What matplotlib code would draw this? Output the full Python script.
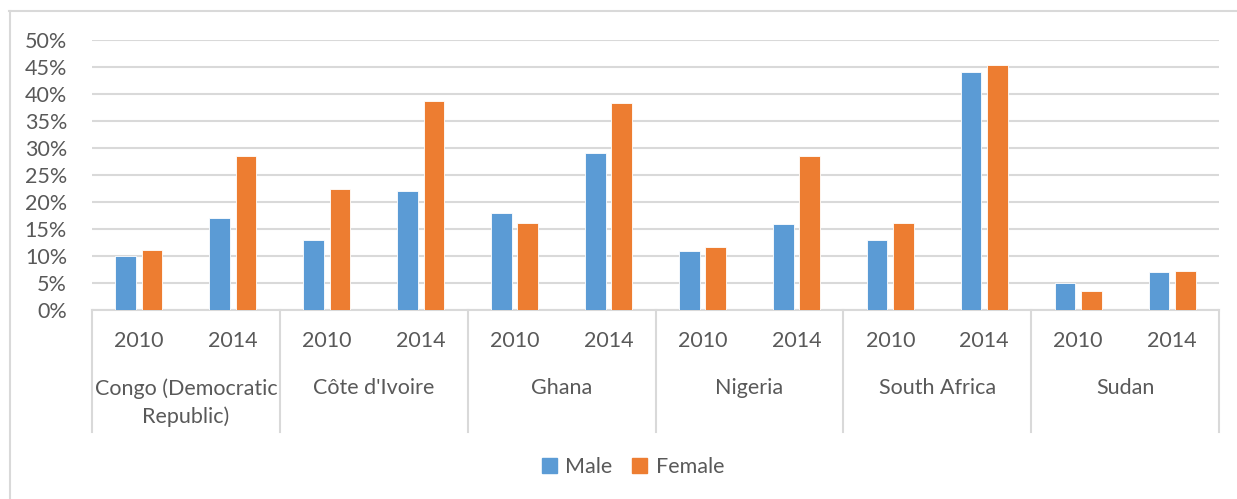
import matplotlib
matplotlib.use("Agg")
import matplotlib.pyplot as plt
import numpy as np
from matplotlib.patches import Patch
from matplotlib.lines import Line2D

countries = ["Congo (Democratic\nRepublic)", "Côte d'Ivoire", "Ghana", "Nigeria", "South Africa", "Sudan"]
years = ["2010", "2014"]
# values in %, one per (country, year) slot
male = [10, 17, 13, 22, 18, 29, 11, 16, 13, 44, 5, 7]
female = [11.1, 28.5, 22.5, 38.7, 16.1, 38.3, 11.6, 28.5, 16.2, 45.3, 3.6, 7.2]

blue = "#5B9BD5"
orange = "#ED7D31"
grey_txt = "#595959"
grid_c = "#D9D9D9"

plt.rcParams['font.family'] = ['Lato', 'DejaVu Sans']

W, H = 1237, 499
fig = plt.figure(figsize=(W / 100, H / 100), dpi=100)
ax = fig.add_axes([92 / W, 1 - 310 / H, (1219 - 92) / W, 270 / H])

x = np.arange(len(male))
bw = 0.22
ax.bar(x - 0.14, np.array(male) / 100, bw, color=blue, edgecolor="white", linewidth=0.6, label="Male", zorder=3)
ax.bar(x + 0.14, np.array(female) / 100, bw, color=orange, edgecolor="white", linewidth=0.6, label="Female", zorder=3)

ax.set_xlim(-0.5, len(male) - 0.5)
ax.set_ylim(0, 0.5)
ax.set_yticks(np.arange(0, 0.51, 0.05))
ax.set_yticklabels([f"{int(round(v * 100))}%" for v in np.arange(0, 0.51, 0.05)])
ax.tick_params(axis="y", length=0, pad=18, labelsize=15.5, labelcolor=grey_txt)
ax.set_xticks([])
ax.grid(axis="y", color=grid_c, linewidth=1.5, zorder=0)
for s in ["top", "right", "left"]:
    ax.spines[s].set_visible(False)
ax.spines["bottom"].set_color(grid_c)
ax.spines["bottom"].set_linewidth(1.5)

# category axis: years, then countries, with separators
trans = ax.get_xaxis_transform()
px = 1 / 270  # one pixel in axes-y units
for i in range(len(male)):
    ax.text(i, -31 * px, years[i % 2], transform=trans, ha="center", va="center",
            fontsize=15.5, color=grey_txt)
for g, name in enumerate(countries):
    ax.text(2 * g + 0.5, -68 * px, name, transform=trans, ha="center", va="top",
            fontsize=15.5, color=grey_txt, linespacing=1.45)
for b in np.arange(-0.5, len(male), 2):
    ax.add_line(Line2D([b, b], [0, -122 * px], transform=trans, color=grid_c,
                       linewidth=1.5, clip_on=False))

# outer chart border (top and left)
fig.add_artist(Line2D([9 / W, 1], [1 - 10.5 / H, 1 - 10.5 / H], color=grid_c, linewidth=1.5))
fig.add_artist(Line2D([9.5 / W, 9.5 / W], [0, 1 - 10.5 / H], color=grid_c, linewidth=1.5))

handles = [Patch(color=blue, label="Male"), Patch(color=orange, label="Female")]
fig.legend(handles=handles, loc="center", bbox_to_anchor=(633 / W, 1 - 467 / H), ncol=2,
           frameon=False, fontsize=15.5, labelcolor=grey_txt, handlelength=0.7, handleheight=0.7,
           handletextpad=0.4, columnspacing=0.9)

fig.savefig("out.png", dpi=100)
